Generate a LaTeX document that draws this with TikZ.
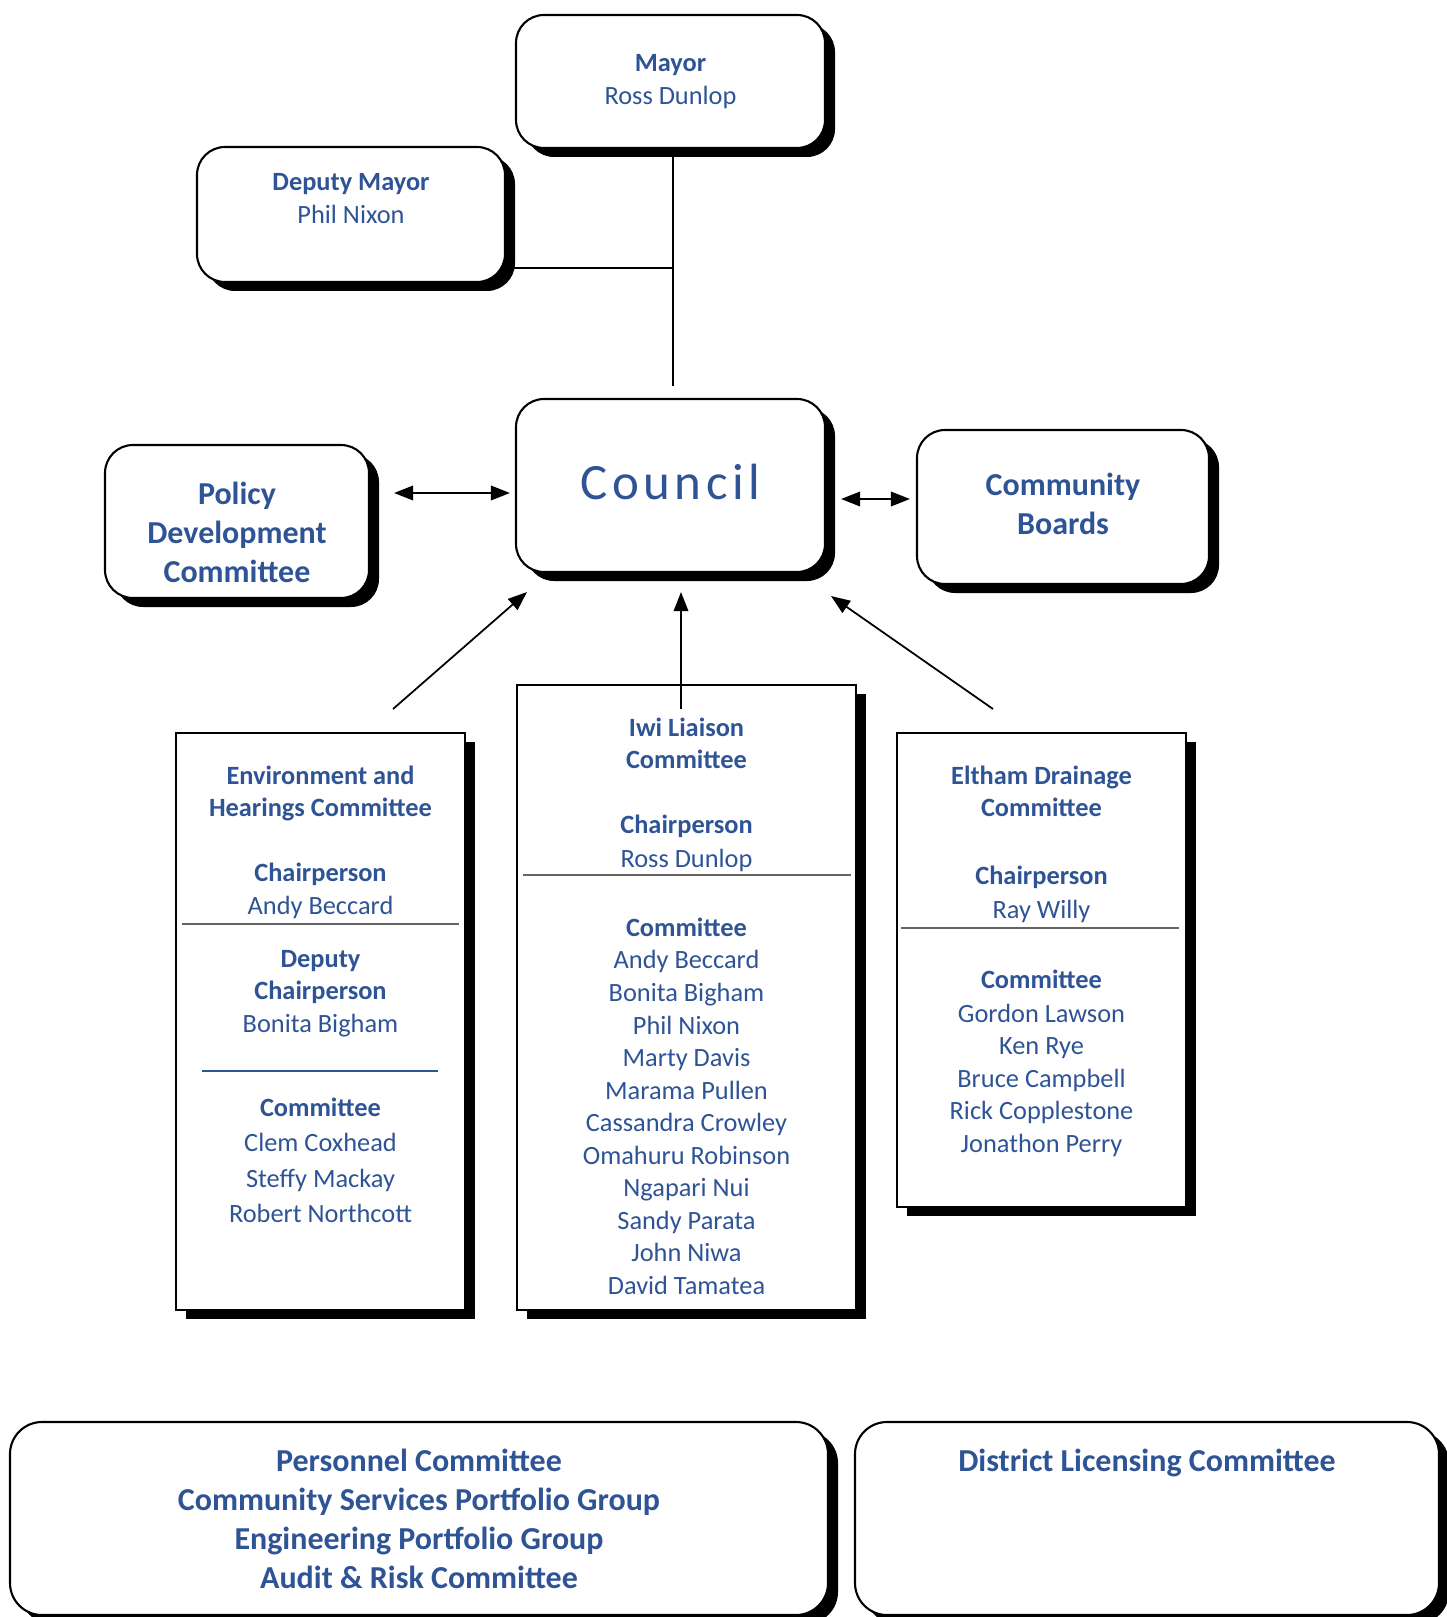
\documentclass[tikz,border=0pt]{standalone}
\usepackage{fontspec}
\setmainfont{Carlito}
\newfontfamily\councilfont[LetterSpace=9]{Carlito}
\usetikzlibrary{arrows.meta,shadows,calc}
\definecolor{boardblue}{RGB}{47,84,150}
\definecolor{rulegray}{RGB}{100,100,100}
\newcommand{\orgsmall}{\fontsize{7.5}{9.2}\selectfont}
\newcommand{\orgbig}{\fontsize{9.1}{11.1}\selectfont\bfseries}
\tikzset{>={Triangle[length=1.9mm,width=1.45mm]}}
\tikzset{
	boxshadow/.style={drop shadow={shadow xshift=1mm,shadow yshift=-0.9mm,fill=black,opacity=1}},
	roundbox/.style={draw,line width=0.6pt,fill=white,rounded corners=2.8mm,boxshadow,
		inner sep=0pt,align=center,text=boardblue},
	listbox/.style={draw,line width=0.45pt,fill=white,boxshadow,inner sep=0pt},
	heading/.style={anchor=base,inner sep=0pt,text=boardblue,font=\orgsmall\bfseries},
	person/.style={anchor=base,inner sep=0pt,text=boardblue,font=\orgsmall},
	link/.style={line width=0.5pt},
	sepline/.style={draw=rulegray,line width=0.45pt}
}

\begin{document}
\begin{tikzpicture}[x=1cm,y=-1cm]
	\useasboundingbox (0,0) rectangle (14.46,16.17);

	% top of the chart
	\node[roundbox,font=\orgsmall,minimum width=3.09cm,minimum height=1.33cm] (mayor) at (6.705,0.815)
		{\textbf{Mayor}\\Ross Dunlop};
	\node[roundbox,font=\orgsmall,minimum width=3.08cm,minimum height=1.35cm] (deputy) at (3.51,2.145)
		{\textbf{Deputy Mayor}\\Phil Nixon\\\mbox{}};
	\node[roundbox,font={\fontsize{14.5}{17}\councilfont},text depth=0.8mm,minimum width=3.09cm,minimum height=1.73cm] (council) at (6.705,4.855)
		{Council};
	\node[roundbox,font=\orgbig,minimum width=2.64cm,minimum height=1.53cm] (policy) at (2.37,5.215)
		{\mbox{}\\[0.06cm]Policy\\Development\\Committee};
	\node[roundbox,font=\orgbig,text depth=0.6mm,minimum width=2.92cm,minimum height=1.54cm] (community) at (10.63,5.07)
		{Community\\Boards};

	\coordinate (junction) at (6.73,2.68);
	\draw[link,shorten >=1.2mm] (mayor.south -| junction) -- (council.north -| junction);
	\draw[link] (deputy.east |- junction) -- (junction);

	\coordinate (leftlevel) at (0,4.93);
	\coordinate (rightlevel) at (0,4.99);
	\draw[link,<->,shorten <=2.4mm,shorten >=0.5mm] (policy.east |- leftlevel) -- (council.west |- leftlevel);
	\draw[link,<->,shorten <=1.5mm,shorten >=0.6mm] (council.east |- rightlevel) -- (community.west |- rightlevel);

	% committees
	\node[listbox,minimum width=2.89cm,minimum height=5.77cm] (env) at (3.205,10.215) {};
	\node[listbox,minimum width=3.39cm,minimum height=6.25cm] (iwi) at (6.865,9.975) {};
	\node[listbox,minimum width=2.89cm,minimum height=4.74cm] (eltham) at (10.415,9.70) {};

	\foreach \s/\y/\t [count=\i] in {heading/7.84/Environment and, heading/8.16/Hearings Committee,
		heading/8.81/Chairperson, person/9.14/Andy Beccard, heading/9.67/Deputy, heading/9.99/Chairperson,
		person/10.32/Bonita Bigham, heading/11.16/Committee, person/11.51/Clem Coxhead,
		person/11.87/Steffy Mackay, person/12.22/Robert Northcott}
		\node[\s] (env\i) at (3.205,\y) {\t};
	\draw[sepline] (1.82,9.24) -- (4.59,9.24);
	\draw[draw=boardblue,line width=0.45pt] (2.02,10.71) -- (4.38,10.71);

	\foreach \s/\y/\t [count=\i] in {heading/7.36/Iwi Liaison, heading/7.68/Committee,
		heading/8.33/Chairperson, person/8.67/Ross Dunlop, heading/9.36/Committee,
		person/9.68/Andy Beccard, person/10.01/Bonita Bigham, person/10.34/Phil Nixon,
		person/10.66/Marty Davis, person/10.99/Marama Pullen, person/11.31/Cassandra Crowley,
		person/11.64/Omahuru Robinson, person/11.96/Ngapari Nui, person/12.29/Sandy Parata,
		person/12.61/John Niwa, person/12.94/David Tamatea}
		\node[\s] (iwi\i) at (6.865,\y) {\t};
	\draw[sepline] (5.23,8.75) -- (8.51,8.75);

	\foreach \s/\y/\t [count=\i] in {heading/7.84/Eltham Drainage, heading/8.16/Committee,
		heading/8.84/Chairperson, person/9.18/Ray Willy, heading/9.88/Committee,
		person/10.22/Gordon Lawson, person/10.54/Ken Rye, person/10.87/Bruce Campbell,
		person/11.19/Rick Copplestone, person/11.52/Jonathon Perry}
		\node[\s] (eltham\i) at (10.415,\y) {\t};
	\draw[sepline] (9.01,9.28) -- (11.79,9.28);

	\coordinate (envtail) at (3.93,7.09);
	\coordinate (iwitail) at (6.81,7.09);
	\coordinate (elthamtail) at (9.93,7.09);
	\draw[link,->] (envtail) -- ($(council.south west)+(0.12,0.19)$);
	\draw[link,->,shorten >=1.9mm] (iwitail) -- (iwitail |- council.south);
	\draw[link,->] (elthamtail) -- ($(council.south east)+(0.05,0.23)$);

	% bottom row
	\node[roundbox,font=\orgbig,minimum width=8.18cm,minimum height=1.93cm,rounded corners=3.2mm] (portfolio) at (4.19,15.185)
		{Personnel Committee\\Community Services Portfolio Group\\Engineering Portfolio Group\\Audit \& Risk Committee};
	\node[roundbox,font=\orgbig,minimum width=5.84cm,minimum height=1.93cm,rounded corners=3.2mm] (licensing) at (11.47,15.185)
		{District Licensing Committee\\\mbox{}\\\mbox{}\\\mbox{}};
\end{tikzpicture}
\end{document}
